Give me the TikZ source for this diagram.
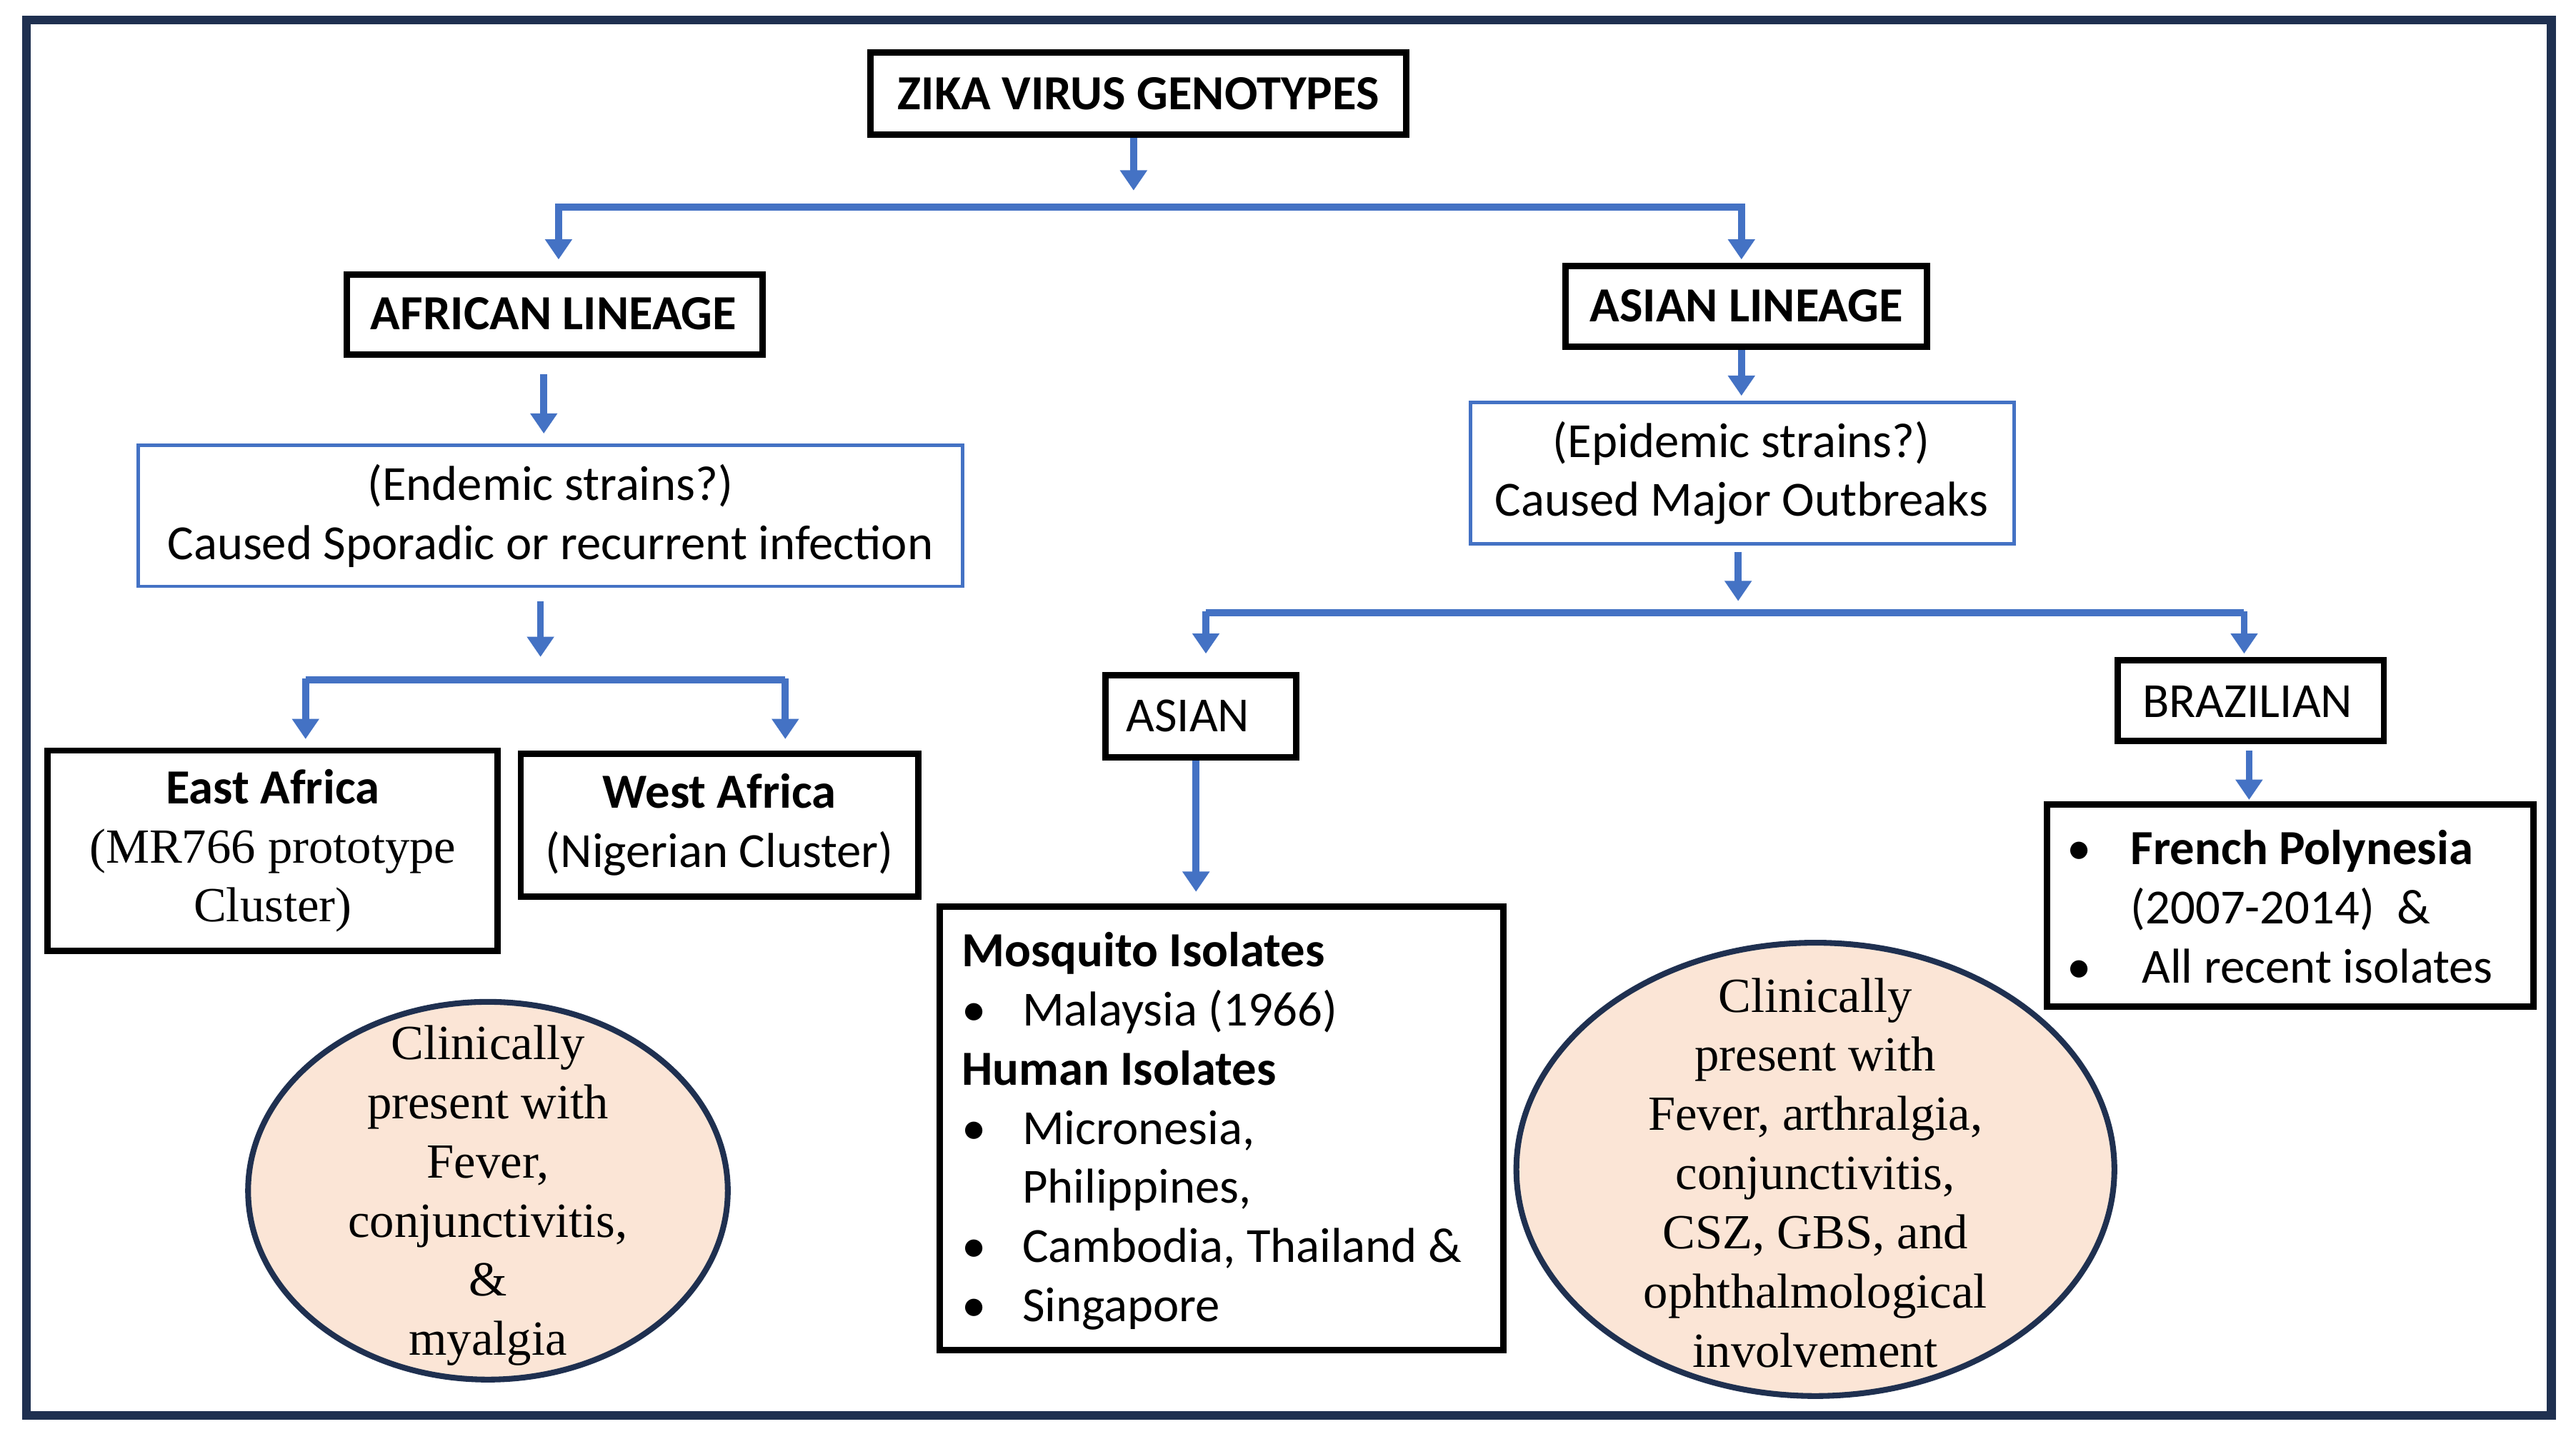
\documentclass[tikz,border=0pt]{standalone}
\usepackage{fontspec}
\setmainfont{Carlito}
\newfontfamily\serifel{Liberation Serif}
\usetikzlibrary{arrows.meta}
\definecolor{lnblue}{HTML}{4472C4}
\definecolor{navy}{HTML}{1F3050}
\definecolor{peach}{HTML}{FBE5D6}
\begin{document}
\begin{tikzpicture}[x=0.02cm,y=-0.02cm,
  tf/.style={font=\fontsize{17}{20.5}\selectfont},
  tb/.style={font=\bfseries\fontsize{17}{20.5}\selectfont},
  ar/.style={draw=lnblue,line width=2.4pt,-{Triangle[width=9pt,length=7pt]}},
  ln/.style={draw=lnblue,line width=2.4pt},
  kb/.style={line width=2.2pt},
  bl/.style={draw=lnblue,line width=1.2pt},
  ef/.style={align=center,font=\serifel\fontsize{17}{20.5}\selectfont},
  ed/.style={draw=navy,line width=2pt,fill=peach}]
\useasboundingbox (0,0) rectangle (1568,876);
\draw[navy,line width=3pt] (16,12) rectangle (1553,862);
% boxes
\draw[kb] (530,32) rectangle (856,82);
\node[tb] (zika) at (693,57) {ZIKA VIRUS GENOTYPES};
\draw[kb] (211,167) rectangle (464,216);
\node[tb] (afr) at (337,191) {AFRICAN LINEAGE};
\draw[kb] (953,162) rectangle (1173,211);
\node[tb] (asl) at (1063,186) {ASIAN LINEAGE};
\draw[bl] (84,271) rectangle (586,357);
\node[tf,align=center] (end) at (335,314) {(Endemic strains?)\\Caused Sporadic or recurrent infection};
\draw[bl] (895,245) rectangle (1226,331);
\node[tf,align=center] (epi) at (1060,288) {(Epidemic strains?)\\Caused Major Outbreaks};
\draw[kb] (29,457) rectangle (303,579);
\node[tf,align=center] (east) at (166,518) {\textbf{East Africa}\\{\serifel(MR766 prototype}\\{\serifel Cluster)}};
\draw[kb] (317,459) rectangle (559,546);
\node[tf,align=center] (west) at (438,502) {\textbf{West Africa}\\(Nigerian Cluster)};
\draw[kb] (673,411) rectangle (789,461);
\node[tf] (asian) at (723,436) {ASIAN};
\draw[kb] (1289,402) rectangle (1451,451);
\node[tf] (braz) at (1368,427) {BRAZILIAN};
\draw[kb] (1246,490) rectangle (1542,613);
\node[tf,anchor=north west,inner sep=0pt,align=left] (fp) at (1258,501)
 {\begin{tabular}{@{}p{22pt}@{}l@{}}
 \textbullet & \textbf{French Polynesia}\\
 & (2007-2014)\ \ \&\\
 \textbullet & \ All recent isolates
 \end{tabular}};
\draw[kb] (572,552) rectangle (915,822);
\node[tf,anchor=north west,inner sep=0pt,align=left] (mos) at (585,563)
 {\begin{tabular}{@{}p{21pt}@{}l@{}}
 \multicolumn{2}{@{}l}{\textbf{Mosquito Isolates}}\\
 \textbullet & Malaysia (1966)\\
 \multicolumn{2}{@{}l}{\textbf{Human Isolates}}\\
 \textbullet & Micronesia,\\
 & Philippines,\\
 \textbullet & Cambodia, Thailand \&\\
 \textbullet & Singapore
 \end{tabular}};
% ellipses
\draw[ed] (297,725) ellipse [x radius=146,y radius=115];
\node[ef] (e1) at (297,728) {Clinically\\present with\\Fever,\\conjunctivitis,\\\&\\myalgia};
\draw[ed] (1105,712) ellipse [x radius=182,y radius=138];
\node[ef] (e2) at (1105,714) {Clinically\\present with\\Fever, arthralgia,\\conjunctivitis,\\CSZ, GBS, and\\ophthalmological\\involvement};
% connectors
\coordinate (c1) at (690,84); \coordinate (c2) at (690,116);
\draw[ar] (c1) -- (c2);
\coordinate (h1) at (340,126); \coordinate (h2) at (1060,126);
\draw[ln] (h1) -- (h2);
\draw[ar] ([yshift=1.2pt]h1) -- (340,158);
\draw[ar] ([yshift=1.2pt]h2) -- (1060,158);
\draw[ar] (331,228) -- (331,264);
\draw[ar] (1060,213) -- (1060,241);
\draw[ar] (329,366) -- (329,400);
\draw[ln] (186,414) -- (478,414);
\draw[ar] (186,413) -- (186,450);
\draw[ar] (478,413) -- (478,450);
\draw[ar] (1058,336) -- (1058,366);
\draw[ln] (734,373) -- (1366,373);
\draw[ar] (734,372) -- (734,398);
\draw[ar] (1366,372) -- (1366,398);
\draw[ar] (728,463) -- (728,543);
\draw[ar] (1369,457) -- (1369,487);
\end{tikzpicture}
\end{document}
